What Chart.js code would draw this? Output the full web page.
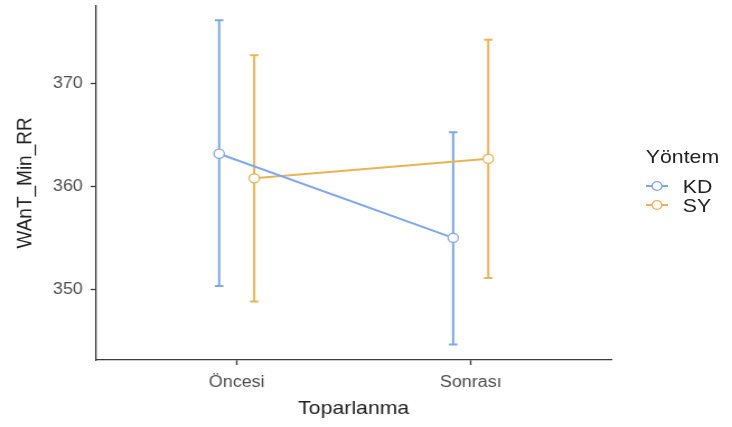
<!DOCTYPE html>
<html>
<head>
<meta charset="utf-8">
<script src="https://cdn.jsdelivr.net/npm/chart.js@4"></script>
<style>
  body { margin: 0; background: #fff; font-family: "Liberation Sans", Arial, sans-serif; overflow: hidden; }
  /* the reference is drawn slightly wider than tall, so the whole figure is stretched horizontally */
  #wrap { position: relative; width: 654px; height: 427px; transform: scaleX(1.1193); transform-origin: 0 0; }
  #ChartWant { position: absolute; left: 0; top: 0; }
  .leg { position: absolute; font-size: 19px; line-height: 19px; color: #222; white-space: nowrap; }
  .leg svg { position: absolute; left: -33px; top: 2px; }
</style>
</head>
<body>
<div id="wrap">
  <canvas id="ChartWant" width="654" height="427"></canvas>
  <div class="leg" style="left:577px; top:147px;">Yöntem</div>
  <div class="leg" style="left:610px; top:176.5px;"><svg width="20" height="14"><line x1="0" y1="7" x2="20" y2="7" stroke="#7EA8EC" stroke-width="2"/><circle cx="10" cy="7" r="4.4" fill="#fff" stroke="#7EA8EC" stroke-width="1.3"/></svg>KD</div>
  <div class="leg" style="left:610px; top:195.5px;"><svg width="20" height="14"><line x1="0" y1="7" x2="20" y2="7" stroke="#EBB452" stroke-width="2"/><circle cx="10" cy="7" r="4.4" fill="#fff" stroke="#EBB452" stroke-width="1.3"/></svg>SY</div>
</div>
<script>
const Kategoriler = ['Öncesi', 'Sonrası'];
const KD_Ort = [363.2, 355.0];
const KD_Alt = [350.3, 344.6];
const KD_Ust = [376.2, 365.3];
const SY_Ort = [360.8, 362.7];
const SY_Alt = [348.8, 351.1];
const SY_Ust = [372.8, 374.3];
const YTicks = [350, 360, 370];

const Dodge = 0.075;
const MavRenk = '#7EA8EC';
const TurRenk = '#EBB452';

const Puntos = (Ort, Alt, Ust, Kay) => Ort.map((v, i) => ({ x: i + 1 + Kay, y: v, alt: Alt[i], ust: Ust[i] }));

const HataCubuklari = {
    id: 'hataCubuklari',
    beforeDatasetsDraw(chart) {
        const ctx = chart.ctx;
        const xs = chart.scales.x;
        const ys = chart.scales.y;
        chart.data.datasets.forEach((ds) => {
            ctx.save();
            ctx.strokeStyle = ds.borderColor;
            ctx.lineWidth = 2;
            ds.data.forEach((p) => {
                const px = xs.getPixelForValue(p.x);
                const y1 = ys.getPixelForValue(p.alt);
                const y2 = ys.getPixelForValue(p.ust);
                ctx.beginPath();
                ctx.moveTo(px, y1); ctx.lineTo(px, y2);
                ctx.moveTo(px - 3.8, y1); ctx.lineTo(px + 3.8, y1);
                ctx.moveTo(px - 3.8, y2); ctx.lineTo(px + 3.8, y2);
                ctx.stroke();
            });
            ctx.restore();
        });
    }
};

const SinPadding = (s) => { s.paddingTop = 0; s.paddingBottom = 0; s.paddingLeft = 0; s.paddingRight = 0; };

const ctxWant = document.getElementById('ChartWant');
const ChartWant = new Chart(ctxWant, {
    type: 'line',
    data: {
        datasets: [{
            label: 'KD',
            data: Puntos(KD_Ort, KD_Alt, KD_Ust, -Dodge),
            borderColor: MavRenk,
            backgroundColor: '#ffffff',
            borderWidth: 2,
            pointRadius: 4.6,
            pointBorderWidth: 1.3,
            pointBackgroundColor: '#ffffff'
        }, {
            label: 'SY',
            data: Puntos(SY_Ort, SY_Alt, SY_Ust, Dodge),
            borderColor: TurRenk,
            backgroundColor: '#ffffff',
            borderWidth: 2,
            pointRadius: 4.6,
            pointBorderWidth: 1.3,
            pointBackgroundColor: '#ffffff'
        }]
    },
    options: {
        responsive: false,
        animation: false,
        devicePixelRatio: 1,
        layout: { padding: { top: 4, right: 108, left: 0, bottom: 0 } },
        plugins: { legend: { display: false }, tooltip: { enabled: false } },
        scales: {
            x: {
                type: 'linear',
                min: 0.4,
                max: 2.6,
                afterBuildTicks: (s) => { s.ticks = Kategoriler.map((k, i) => ({ value: i + 1 })); },
                afterFit: (s) => { s.height = 67; SinPadding(s); },
                ticks: {
                    callback: (v) => Kategoriler[v - 1],
                    color: '#4D4D4D',
                    font: { family: 'Liberation Sans', size: 16 },
                    padding: 8,
                    maxRotation: 0
                },
                grid: { drawOnChartArea: false, tickLength: 5, color: '#3a3a3a', tickWidth: 1.3 },
                border: { color: '#3a3a3a', width: 1.3 },
                title: {
                    display: true,
                    text: 'Toparlanma',
                    color: '#222',
                    font: { family: 'Liberation Sans', size: 19 },
                    padding: { top: 4, bottom: 6.5 }
                }
            },
            y: {
                min: 343.1,
                max: 377.6,
                afterBuildTicks: (s) => { s.ticks = YTicks.map((v) => ({ value: v })); },
                afterFit: (s) => { s.width = 86; SinPadding(s); },
                ticks: {
                    color: '#4D4D4D',
                    font: { family: 'Liberation Sans', size: 16 },
                    padding: 7
                },
                grid: { drawOnChartArea: false, tickLength: 5, color: '#3a3a3a', tickWidth: 1.3 },
                border: { color: '#3a3a3a', width: 1.3 },
                title: {
                    display: true,
                    text: 'WAnT_Min_RR',
                    color: '#222',
                    font: { family: 'Liberation Sans', size: 19 },
                    padding: { top: 11, bottom: 0 }
                }
            }
        }
    },
    plugins: [HataCubuklari]
});
</script>
</body>
</html>
